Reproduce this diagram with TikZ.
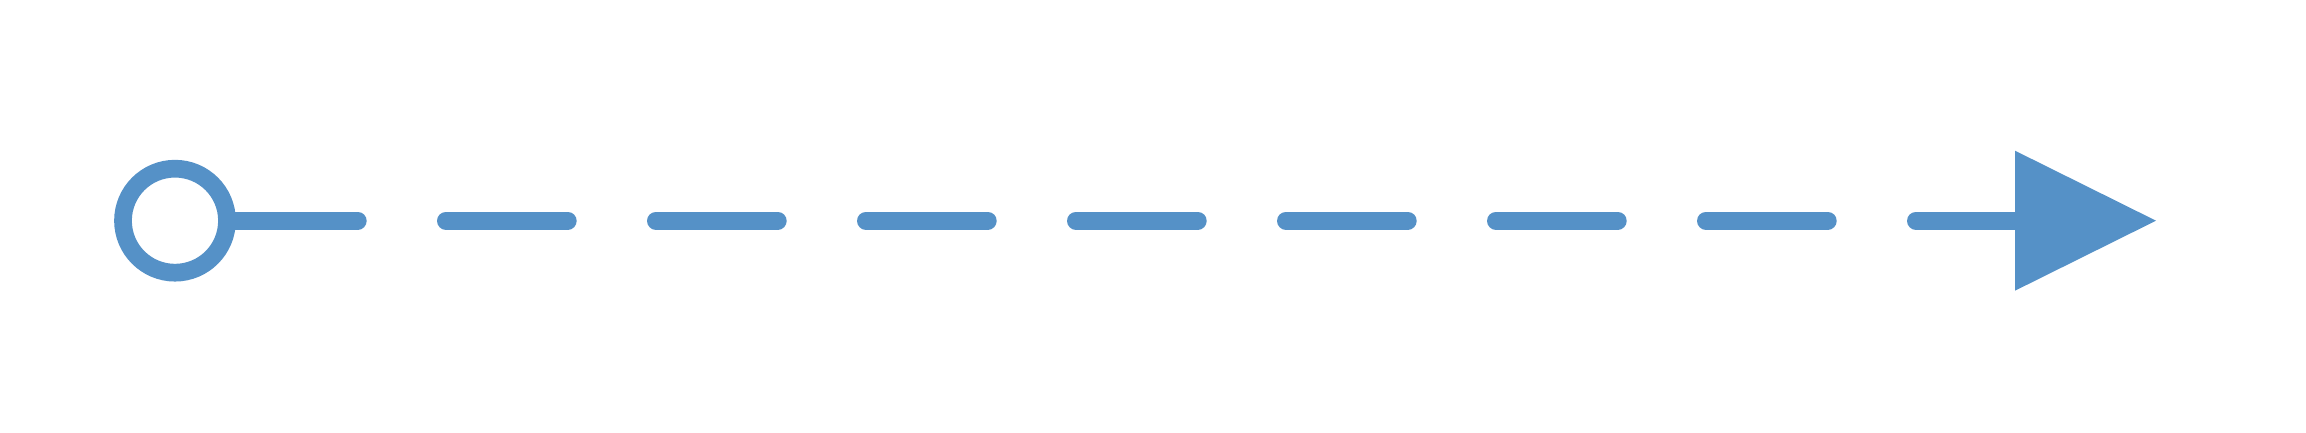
\documentclass[tikz,border=0pt]{standalone}
\usepackage{xcolor}
\usetikzlibrary{positioning, arrows.meta}
\definecolor{linkblue}{RGB}{85,145,199}

\begin{document}
\begin{tikzpicture}[
    startdot/.style={circle, draw=linkblue, line width=0.177cm, fill=white, inner sep=0pt, minimum size=1.04cm},
    flowline/.style={draw=linkblue, line width=0.177cm, line cap=round, dash pattern=on 1.22cm off 0.88cm},
]
% Frame
\useasboundingbox (0,0) rectangle (23.06,4.33);
% Start and end
\node[startdot] (source) at (1.75,2.123) {};
\coordinate (target) at (21.56,2.123);
% Connector
\draw[flowline, -{Triangle[length=1.41cm, width=1.40cm, line width=0pt, fill=linkblue]}] (source.east) -- (target);
\end{tikzpicture}
\end{document}
